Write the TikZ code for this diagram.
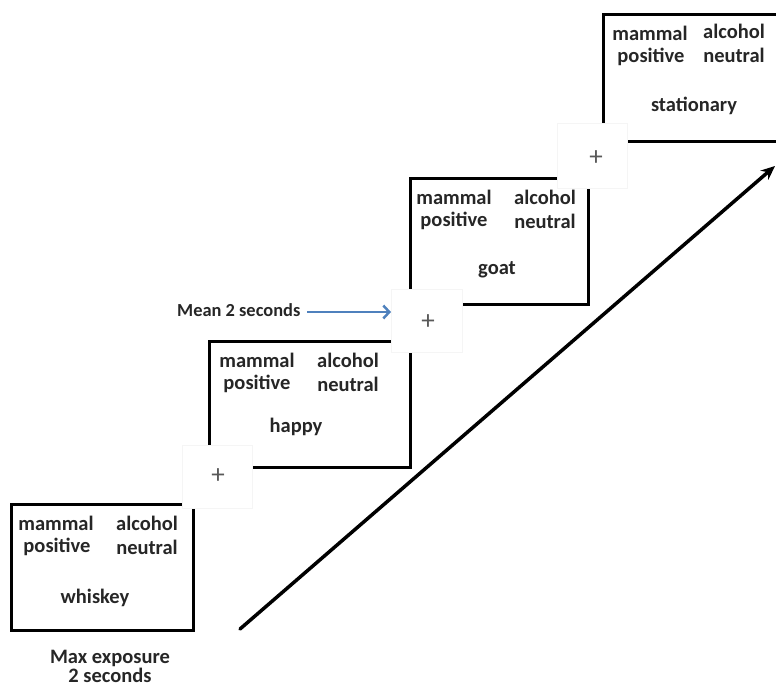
\documentclass[tikz,border=0pt]{standalone}
\usepackage{fontspec}
\setmainfont{Carlito}
\usetikzlibrary{arrows.meta}
\definecolor{arrowblue}{RGB}{79,129,189}
\begin{document}
\begin{tikzpicture}[x=1pt,y=-1pt,
  trialbox/.style={draw=black, line width=2.5pt, rectangle, anchor=north west, inner sep=0pt},
  fixbox/.style={fill=white, draw=black!4, line width=0.8pt, rectangle, anchor=north west, inner sep=0pt},
  word/.style={font=\fontsize{20.5}{22}\selectfont\bfseries, text=black!85, inner sep=0pt},
  cross/.style={font=\fontsize{27}{28}\selectfont, text=black!65, inner sep=0pt},
  caption/.style={font=\fontsize{20.5}{22}\selectfont\bfseries, text=black!85, inner sep=0pt}]
\useasboundingbox (0,0) rectangle (776,686);
\clip (0,0) rectangle (776,686);
% trial boxes
\node[trialbox, minimum width=182pt, minimum height=126pt] (b1) at (10,503) {};
\node[trialbox, minimum width=201pt, minimum height=126pt] (b2) at (208,340) {};
\node[trialbox, minimum width=178pt, minimum height=126pt] (b3) at (409,177) {};
\node[trialbox, minimum width=220pt, minimum height=127pt] (b4) at (602,13) {};
% fixation squares
\node[fixbox, minimum width=70pt, minimum height=63pt] (f1) at (182,445) {};
\node[fixbox, minimum width=71pt, minimum height=63pt] (f2) at (391,289) {};
\node[fixbox, minimum width=70pt, minimum height=65pt] (f3) at (557,123) {};
\node[cross] (c1) at (218,476) {+};
\node[cross] (c2) at (428,322) {+};
\node[cross] (c3) at (596,158) {+};
% box 1 words
\node[word] (m1) at (56,523) {mammal};
\node[word] (a1) at (147,523) {alcohol};
\node[word] (p1) at (57,547) {positive};
\node[word] (n1) at (147,547) {neutral};
\node[word] (w1) at (95,598) {whiskey};
% box 2 words
\node[word] (m2) at (257,360) {mammal};
\node[word] (a2) at (348,360) {alcohol};
\node[word] (p2) at (257,384) {positive};
\node[word] (n2) at (348,384) {neutral};
\node[word] (w2) at (296,427) {happy};
% box 3 words
\node[word] (m3) at (454,197) {mammal};
\node[word] (a3) at (545,197) {alcohol};
\node[word] (p3) at (454,221) {positive};
\node[word] (n3) at (545,221) {neutral};
\node[word] (w3) at (497,270) {goat};
% box 4 words
\node[word] (m4) at (650,33) {mammal};
\node[word] (a4) at (734,31) {alcohol};
\node[word] (p4) at (651,57) {positive};
\node[word] (n4) at (734,55) {neutral};
\node[word] (w4) at (694,106) {stationary};
% captions
\node[caption, align=center] (maxexp) at (110,666) {Max exposure\\[-3pt]2 seconds};
\node[font=\fontsize{18.4}{20}\selectfont\bfseries, text=black!85, inner sep=0pt, anchor=west] (mean) at (177,310) {Mean 2 seconds};
% arrows
\coordinate (bluestart) at (307,312);
\draw[arrowblue, line width=2.5pt, -{Straight Barb[length=6pt,width=13pt]}] (bluestart) -- (f2.west |- bluestart);
\coordinate (bigstart) at (240,629);
\coordinate (bigend) at (775,166);
\draw[black, line width=3.5pt, line cap=round, -{Stealth[length=14pt,width=12pt]}] (bigstart) -- (bigend);
\end{tikzpicture}
\end{document}
